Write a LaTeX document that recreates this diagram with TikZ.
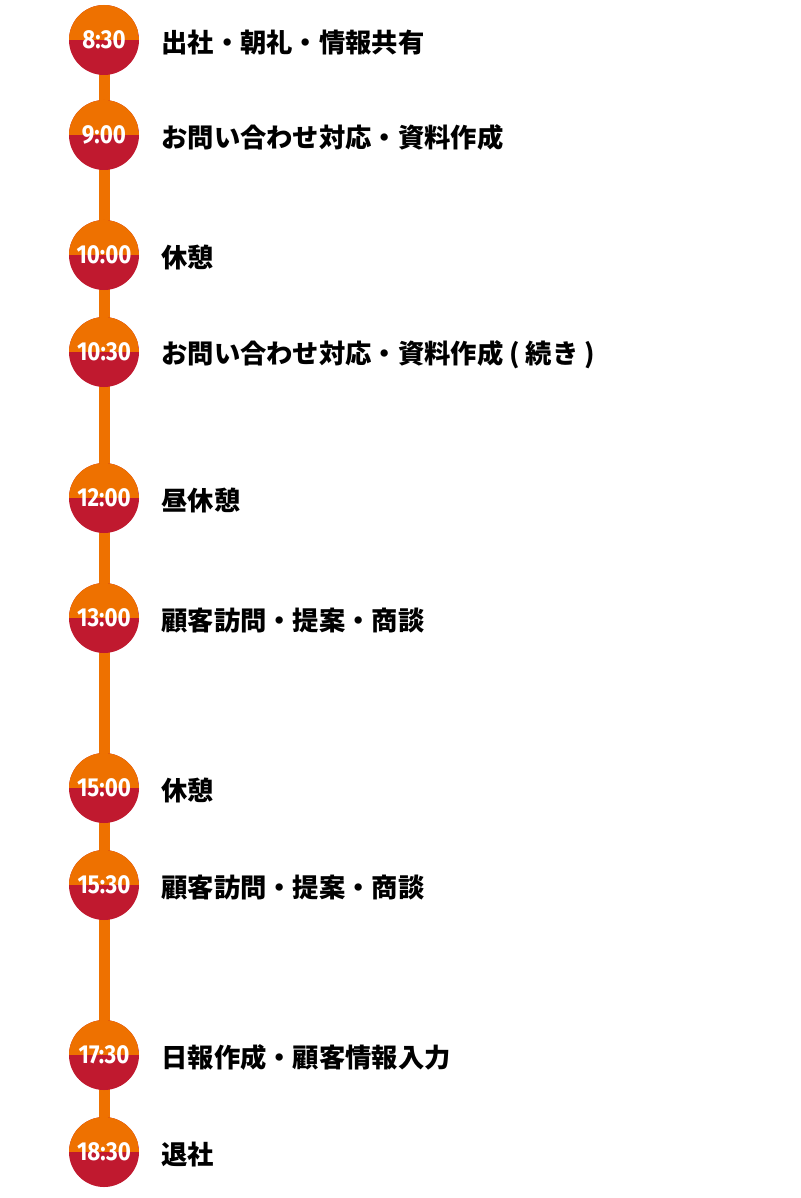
\documentclass[tikz,border=0pt]{standalone}
\usepackage{fontspec}
\setmainfont{Noto Sans CJK JP}
\newfontfamily\timefont{Fira Sans}[FakeStretch=0.86]
\usetikzlibrary{positioning, backgrounds}
\definecolor{tlorange}{HTML}{EE7100}
\definecolor{tlred}{HTML}{C0192F}

\begin{document}
\begin{tikzpicture}[
    x=1pt, y=1pt,
    timebox/.style={circle, fill=tlred, minimum size=70pt, inner sep=0pt,
        text=white, font=\timefont\bfseries\fontsize{26}{26}\selectfont,
        path picture={\fill[tlorange] (path picture bounding box.west) rectangle (path picture bounding box.north east);}},
    task/.style={right=22pt of #1, yshift=-2.5pt, inner sep=0pt, anchor=west, font=\bfseries\fontsize{26.3}{27}\selectfont},
    line/.style={draw, tlorange, line width=11pt}
]
    \useasboundingbox (0,0) rectangle (800,-1198);

    \node [timebox] (t0830) at (104,-40) {8:30};
    \node [timebox] (t0900) at (104,-135) {9:00};
    \node [timebox] (t1000) at (104,-255) {10:00};
    \node [timebox] (t1030) at (104,-352) {10:30};
    \node [timebox] (t1200) at (104,-498) {12:00};
    \node [timebox] (t1300) at (104,-618) {13:00};
    \node [timebox] (t1500) at (104,-788) {15:00};
    \node [timebox] (t1530) at (104,-885) {15:30};
    \node [timebox] (t1730) at (104,-1055) {17:30};
    \node [timebox] (t1830) at (104,-1152) {18:30};

    \node [task=t0830] (k0830) {出社・朝礼・情報共有};
    \node [task=t0900] (k0900) {お問い合わせ対応・資料作成};
    \node [task=t1000] (k1000) {休憩};
    \node [task=t1030] (k1030) {お問い合わせ対応・資料作成 ( 続き )};
    \node [task=t1200] (k1200) {昼休憩};
    \node [task=t1300] (k1300) {顧客訪問・提案・商談};
    \node [task=t1500] (k1500) {休憩};
    \node [task=t1530] (k1530) {顧客訪問・提案・商談};
    \node [task=t1730] (k1730) {日報作成・顧客情報入力};
    \node [task=t1830] (k1830) {退社};

    \begin{scope}[on background layer]
        \path [line] (t0830.center) -- (t1830.center);
    \end{scope}
\end{tikzpicture}
\end{document}
